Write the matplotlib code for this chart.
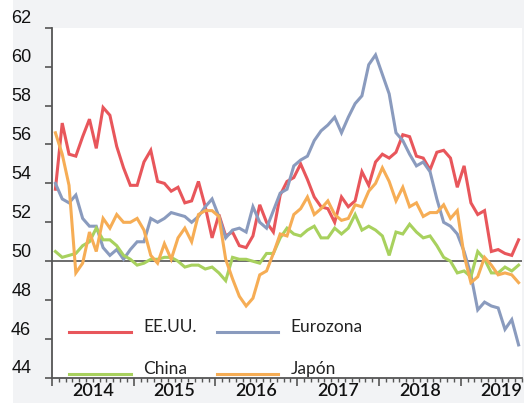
import matplotlib
matplotlib.use("Agg")
import matplotlib.pyplot as plt
from matplotlib.patches import Rectangle
from matplotlib.transforms import ScaledTranslation, blended_transform_factory
import numpy as np

# Monthly data Jan 2014 - Sep 2019
years = ["2014", "2015", "2016", "2017", "2018", "2019"]
series_names = ["EE.UU.", "Eurozona", "China", "Japón"]

eeuu = [53.7, 57.1, 55.5, 55.4, 56.4, 57.3, 55.8, 57.9, 57.5, 55.9, 54.8, 53.9,
        53.9, 55.1, 55.7, 54.1, 54.0, 53.6, 53.8, 53.0, 53.1, 54.1, 52.8, 51.2,
        52.4, 51.3, 51.5, 50.8, 50.7, 51.3, 52.9, 52.0, 51.5, 53.4, 54.1, 54.3,
        55.0, 54.2, 53.3, 52.8, 52.7, 52.0, 53.3, 52.8, 53.1, 54.6, 53.9, 55.1,
        55.5, 55.3, 55.6, 56.5, 56.4, 55.4, 55.3, 54.7, 55.6, 55.7, 55.3, 53.8,
        54.9, 53.0, 52.4, 52.6, 50.5, 50.6, 50.4, 50.3, 51.1]
eurozona = [54.0, 53.2, 53.0, 53.4, 52.2, 51.8, 51.8, 50.7, 50.3, 50.6, 50.1, 50.6,
            51.0, 51.0, 52.2, 52.0, 52.2, 52.5, 52.4, 52.3, 52.0, 52.3, 52.8, 53.2,
            52.3, 51.2, 51.6, 51.7, 51.5, 52.8, 52.0, 51.7, 52.6, 53.5, 53.7, 54.9,
            55.2, 55.4, 56.2, 56.7, 57.0, 57.4, 56.6, 57.4, 58.1, 58.5, 60.1, 60.6,
            59.6, 58.6, 56.6, 56.2, 55.5, 54.9, 55.1, 54.6, 53.2, 52.0, 51.8, 51.4,
            50.5, 49.3, 47.5, 47.9, 47.7, 47.6, 46.5, 47.0, 45.7]
china = [50.5, 50.2, 50.3, 50.4, 50.8, 51.0, 51.7, 51.1, 51.1, 50.8, 50.3, 50.1,
         49.8, 49.9, 50.1, 50.1, 50.2, 50.2, 50.0, 49.7, 49.8, 49.8, 49.6, 49.7,
         49.4, 49.0, 50.2, 50.1, 50.1, 50.0, 49.9, 50.4, 50.4, 51.2, 51.7, 51.4,
         51.3, 51.6, 51.8, 51.2, 51.2, 51.7, 51.4, 51.7, 52.4, 51.6, 51.8, 51.6,
         51.3, 50.3, 51.5, 51.4, 51.9, 51.5, 51.2, 51.3, 50.8, 50.2, 50.0, 49.4,
         49.5, 49.2, 50.5, 50.1, 49.4, 49.4, 49.7, 49.5, 49.8]
japon = [56.6, 55.5, 53.9, 49.4, 49.9, 51.5, 50.5, 52.2, 51.7, 52.4, 52.0, 52.0,
         52.2, 51.6, 50.3, 49.9, 50.9, 50.1, 51.2, 51.7, 51.0, 52.4, 52.6, 52.6,
         52.3, 50.1, 49.1, 48.2, 47.7, 48.1, 49.3, 49.5, 50.4, 51.4, 51.3, 52.4,
         52.7, 53.3, 52.4, 52.7, 53.1, 52.4, 52.1, 52.2, 52.9, 52.8, 53.6, 54.0,
         54.8, 54.1, 53.1, 53.8, 52.8, 53.0, 52.3, 52.5, 52.5, 52.9, 52.2, 52.6,
         50.3, 48.9, 49.2, 50.2, 49.8, 49.3, 49.4, 49.3, 48.9]

colors = ["#e8565b", "#8a9bbe", "#a8d15e", "#f6ad55"]
data = [eeuu, eurozona, china, japon]

W, H, DPI = 531, 403, 100
fig = plt.figure(figsize=(W / DPI, H / DPI), dpi=DPI, facecolor="white")
# gray panel
fig.patches.append(Rectangle((13 / W, 0), (524 - 13) / W, 1, transform=fig.transFigure,
                             facecolor="#f2f3f5", edgecolor="none", zorder=-10))

ax = fig.add_axes([52 / W, (H - 378) / H, (522 - 52) / W, (378 - 27.7) / H])
ax.set_facecolor("white")

x = np.arange(len(eeuu))
lines = {}
for name, vals, c in zip(series_names, data, colors):
    ln, = ax.plot(x, vals, color=c, lw=2.2, label=name, solid_joinstyle="miter", zorder=3)
    lines[name] = ln

ax.axhline(50, color="#6b6b6b", lw=1.4, zorder=2)

ax.set_xlim(-0.5, len(eeuu) - 0.5)
ax.set_ylim(44, 62)

for s in ["top", "right"]:
    ax.spines[s].set_visible(False)
for s in ["left", "bottom"]:
    ax.spines[s].set_color("#555555")
    ax.spines[s].set_linewidth(1.3)

# y ticks
yt = np.arange(44, 63, 2)
ax.set_yticks(yt)
ax.set_yticklabels([str(v) for v in yt], fontsize=13, family="Liberation Sans", color="#111111")
ax.tick_params(axis="y", length=5, width=1.2, color="#555555", pad=10)
for lab in ax.get_yticklabels():
    lab.set_transform(lab.get_transform() + ScaledTranslation(0, 0.11, fig.dpi_scale_trans))

# x ticks: long at year boundaries, short each month
ax.set_xticks(np.arange(-0.5, len(eeuu), 12))
ax.set_xticks(np.arange(-0.5, len(eeuu), 1), minor=True)
ax.set_xticklabels([])
ax.tick_params(axis="x", which="major", length=6, width=1.2, color="#555555")
ax.tick_params(axis="x", which="minor", length=3, width=1.0, color="#555555")

trans = blended_transform_factory(ax.transData, ax.transAxes) + ScaledTranslation(0, -0.135, fig.dpi_scale_trans)
for i, yr in enumerate(years):
    ax.text(5.5 + 12 * i, 0, yr, transform=trans, ha="center", va="center",
            fontsize=13, family="Lato", fontweight="semibold", color="#111111", clip_on=False)

order = ["EE.UU.", "China", "Eurozona", "Japón"]
leg = ax.legend(handles=[lines[n] for n in order], ncol=2, loc="lower left",
                bbox_to_anchor=(0.011, -0.048),
                frameon=False, prop={"family": "Lato", "size": 12.5},
                handlelength=3.55, handletextpad=0.7, columnspacing=1.15,
                labelspacing=1.5, borderpad=0.2)
for t in leg.get_texts():
    t.set_color("#222222")
    t.set_transform(t.get_transform() + ScaledTranslation(0, 0.06, fig.dpi_scale_trans))

fig.savefig("out.png", dpi=DPI, facecolor=fig.get_facecolor())
